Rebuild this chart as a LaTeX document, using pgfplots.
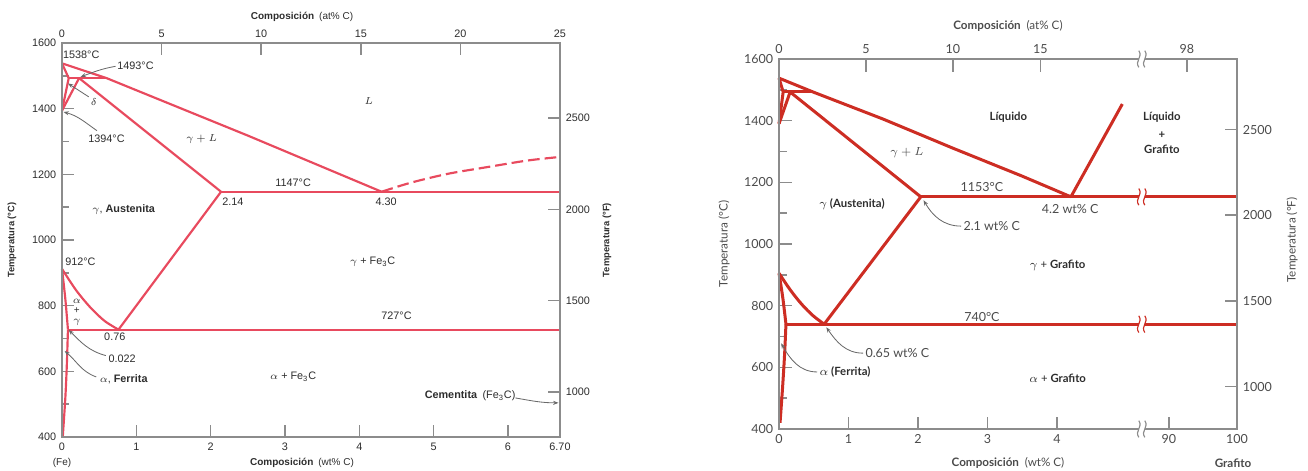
\documentclass[border=0pt]{standalone}
\usepackage{fontspec}
\setmainfont{Liberation Sans}
\newfontfamily\lato{Lato}
\usepackage{pgfplots}
\pgfplotsset{compat=1.18}
\usetikzlibrary{arrows.meta}
\definecolor{lred}{RGB}{232,74,94}
\definecolor{rred}{RGB}{205,45,35}
\definecolor{axg}{RGB}{140,140,140}
\definecolor{ltxt}{RGB}{45,45,45}
\definecolor{rtxt}{RGB}{75,75,75}
\definecolor{arr}{RGB}{105,105,105}
\newcommand\lf{\fontsize{6.5}{7.5}\selectfont}
\newcommand\lfs{\fontsize{6}{6}\selectfont}
\newcommand\rf{\lato\fontsize{7.5}{9}\selectfont}
\newcommand\rfs{\lato\fontsize{6.8}{8}\selectfont}
\tikzset{arrw/.style={draw=arr, line width=0.5pt, -{Stealth[length=3.2pt,width=2.4pt]}}}
\pgfplotsset{
  common/.style={scale only axis, anchor=south west, clip=false,
    axis line style={axg, line width=1pt},
    tick align=inside,
    every tick/.style={axg, line width=0.9pt},
    /pgf/number format/assume math mode=true,
    /pgf/number format/1000 sep={},
  },
  lp/.style={lred, line width=1.3pt, line join=round, mark=none},
  rp/.style={rred, line width=1.8pt, line join=round, mark=none},
}
\begin{document}
\begin{tikzpicture}
\useasboundingbox (0,0) rectangle (784.8pt,282pt);
% ---------------- LEFT PANEL ----------------
\begin{axis}[common, at={(37.2pt,19.8pt)}, width=298.8pt, height=236.4pt,
  xmin=0, xmax=6.7, ymin=400, ymax=1600,
  xtick={0,1,2,3,4,5,6,6.7}, xticklabels={0,1,2,3,4,5,6,6.70},
  ytick={400,600,...,1600}, minor ytick={500,700,...,1500},
  xtick pos=left, ytick pos=left, xticklabel pos=left, yticklabel pos=left,
  major tick length=7pt, minor tick length=4.5pt,
  tick label style={font=\lf, text=ltxt},
]
% liquidus (delta/gamma side)
\addplot[lp] coordinates {(0,1538) (0.6,1493) (2.5,1318) (4.3,1147)};
% liquidus Fe3C side (dashed)
\addplot[lp, dash pattern=on 7pt off 3pt, smooth] coordinates {(4.3,1147) (4.7,1175) (5.2,1202) (5.72,1222) (6.26,1242) (6.7,1253)};
% delta region
\addplot[lp] coordinates {(0,1538) (0.09,1493) (0,1394)};
\addplot[lp] coordinates {(0,1394) (0.23,1493)};
\addplot[lp] coordinates {(0.09,1493) (0.6,1493)};
% gamma solidus
\addplot[lp] coordinates {(0.23,1493) (2.14,1147)};
% eutectic
\addplot[lp] coordinates {(2.14,1147) (6.7,1147)};
% Acm
\addplot[lp] coordinates {(2.14,1147) (0.76,727)};
% A3
\addplot[lp, smooth] coordinates {(0,912) (0.19,847) (0.38,795) (0.57,754) (0.76,727)};
% alpha boundary
\addplot[lp, smooth] coordinates {(0,912) (0.045,820) (0.08,727)};
\addplot[lp, smooth] coordinates {(0.08,727) (0.065,620) (0.045,520) (0.01,400)};
% eutectoid
\addplot[lp] coordinates {(0.08,727) (6.7,727)};
% annotations
\begin{scope}[every node/.style={font=\lf, text=ltxt}]
\node[anchor=west, inner sep=0] at (axis cs:0.01,1563) {1538°C};
\node[anchor=west, inner sep=0] at (axis cs:0.74,1530) {1493°C};
\draw[arrw] (axis cs:0.72,1529) to[out=190,in=20] (axis cs:0.25,1497);
\node at (axis cs:0.43,1420) {$\delta$};
\draw[arrw] (axis cs:0.36,1436) -- (axis cs:0.08,1477);
\node[anchor=west, inner sep=0] at (axis cs:0.35,1308) {1394°C};
\draw[arrw] (axis cs:0.47,1333) to[out=145,in=-15] (axis cs:0.02,1390);
\node at (axis cs:1.88,1308) {$\gamma + L$};
\node at (axis cs:4.13,1423) {$L$};
\node at (axis cs:3.11,1174) {1147°C};
\node at (axis cs:2.30,1116) {2.14};
\node at (axis cs:4.36,1116) {4.30};
\node at (axis cs:0.83,1094) {$\gamma$, \textbf{Austenita}};
\node[anchor=west, inner sep=0] at (axis cs:0.04,933) {912°C};
\node at (axis cs:4.18,933) {$\gamma$ + Fe\textsubscript{3}C};
\node[font=\lfs, align=center, inner sep=0] at (axis cs:0.2,781) {$\alpha$\\+\\$\gamma$};
\node at (axis cs:4.5,769) {727°C};
\node at (axis cs:0.71,705) {0.76};
\node at (axis cs:0.81,638) {0.022};
\draw[arrw] (axis cs:0.59,648) to[out=165,in=-45] (axis cs:0.09,726);
\node at (axis cs:0.83,577) {$\alpha$, \textbf{Ferrita}};
\draw[arrw] (axis cs:0.46,583) to[out=160,in=-40] (axis cs:0.035,662);
\node at (axis cs:3.11,583) {$\alpha$ + Fe\textsubscript{3}C};
\node at (axis cs:5.49,525) {\textbf{Cementita}\enspace(Fe\textsubscript{3}C)};
\draw[arrw] (axis cs:6.1,519) to[out=-10,in=180] (axis cs:6.68,504);
\end{scope}
\end{axis}
\begin{axis}[common, at={(37.2pt,19.8pt)}, width=298.8pt, height=236.4pt,
  xmin=0, xmax=25, ymin=752, ymax=2912,
  xtick={0,5,...,25}, ytick={1000,1500,2000,2500},
  xtick pos=right, ytick pos=right, xticklabel pos=right, yticklabel pos=right,
  major tick length=7pt,
  tick label style={font=\lf, text=ltxt},
]
\addplot[draw=none] coordinates {(0,752)};
\end{axis}
\begin{scope}[every node/.style={font=\lfs, text=ltxt}]
\node at (181.2pt,271.8pt) {\textbf{Composición}\enspace(at\% C)};
\node at (181.2pt,4.2pt) {\textbf{Composición}\enspace(wt\% C)};
\node at (37.2pt,4.2pt) {(Fe)};
\node[rotate=90, font=\fontsize{5.6}{6}\selectfont] at (7.2pt,138pt) {\textbf{Temperatura (°C)}};
\node[rotate=90, font=\fontsize{5.6}{6}\selectfont] at (364.2pt,138pt) {\textbf{Temperatura (°F)}};
\end{scope}
% ---------------- RIGHT PANEL ----------------
\begin{axis}[common, at={(467.4pt,24.6pt)}, width=274.8pt, height=222pt,
  xmin=0, xmax=6.59, ymin=400, ymax=1600,
  xtick={0,1,2,3,4,5.61,6.59}, xticklabels={0,1,2,3,4,90,100},
  ytick={400,600,...,1600}, minor ytick={500,700,...,1500},
  xtick pos=left, ytick pos=left, xticklabel pos=left, yticklabel pos=left,
  major tick length=7.5pt, minor tick length=5pt,
  tick label style={font=\rf, text=rtxt},
]
\addplot[rp] coordinates {(0,1538) (0.49,1493) (1.5,1405) (2.5,1311) (3.5,1220) (4.2,1153)};
\addplot[rp] coordinates {(0,1538) (0.06,1493) (0,1390)};
\addplot[rp] coordinates {(0,1390) (0.16,1493)};
\addplot[rp] coordinates {(0.06,1493) (0.49,1493)};
\addplot[rp] coordinates {(0.16,1493) (2.04,1153)};
\addplot[rp] coordinates {(2.04,1153) (6.59,1153)};
\addplot[rp] coordinates {(4.2,1153) (4.94,1454)};
\addplot[rp] coordinates {(2.04,1153) (0.65,740)};
\addplot[rp, smooth] coordinates {(0,905) (0.1625,851) (0.325,805) (0.4875,768) (0.65,740)};
\addplot[rp, smooth] coordinates {(0,905) (0.055,825) (0.1,740)};
\addplot[rp, smooth] coordinates {(0.1,740) (0.08,640) (0.05,530) (0.015,420)};
\addplot[rp] coordinates {(0.1,740) (6.59,740)};
\coordinate (bT) at (axis cs:5.22,1600);
\coordinate (bB) at (axis cs:5.22,400);
\coordinate (b1) at (axis cs:5.22,1153);
\coordinate (b2) at (axis cs:5.22,740);
\begin{scope}[every node/.style={font=\rf, text=rtxt}]
\node[font=\rfs\bfseries, text=ltxt] at (axis cs:3.30,1412) {Líquido};
\node[font=\rfs\bfseries, text=ltxt] at (axis cs:5.51,1412) {Líquido};
\node[font=\rfs\bfseries, text=ltxt] at (axis cs:5.51,1352) {+};
\node[font=\rfs\bfseries, text=ltxt] at (axis cs:5.51,1308) {Grafito};
\node at (axis cs:1.84,1295) {$\gamma + L$};
\node at (axis cs:2.92,1185) {1153°C};
\node[font=\rfs, text=ltxt] at (axis cs:1.05,1130) {$\gamma$ \textbf{(Austenita)}};
\node[anchor=west, inner sep=0] at (axis cs:2.65,1058) {2.1 wt\% C};
\draw[arrw] (axis cs:2.62,1058) to[out=180,in=-60] (axis cs:2.08,1142);
\node at (axis cs:4.19,1113) {4.2 wt\% C};
\node[font=\rfs, text=ltxt] at (axis cs:4.01,932) {$\gamma$ + \textbf{Grafito}};
\node at (axis cs:2.92,763) {740°C};
\node[anchor=west, inner sep=0] at (axis cs:1.24,646) {0.65 wt\% C};
\draw[arrw] (axis cs:1.21,646) to[out=180,in=-55] (axis cs:0.68,730);
\node[font=\rfs, text=ltxt, anchor=west, inner sep=0] at (axis cs:0.58,585) {$\alpha$ \textbf{(Ferrita)}};
\draw[arrw] (axis cs:0.55,585) to[out=180,in=-60] (axis cs:0.03,678);
\node[font=\rfs, text=ltxt] at (axis cs:4.01,565) {$\alpha$ + \textbf{Grafito}};
\end{scope}
\end{axis}
\begin{axis}[common, at={(467.4pt,24.6pt)}, width=274.8pt, height=222pt,
  xmin=0, xmax=6.59, ymin=752, ymax=2912,
  xtick={0,1.25,2.5,3.76,5.87}, xticklabels={0,5,10,15,98},
  ytick={1000,1500,2000,2500},
  xtick pos=right, ytick pos=right, xticklabel pos=right, yticklabel pos=right,
  major tick length=7.5pt,
  tick label style={font=\rf, text=rtxt},
]
\addplot[draw=none] coordinates {(0,752)};
\end{axis}
\foreach \c/\col in {bT/axg,bB/axg,b1/rred,b2/rred}{
  \begin{scope}[shift={(\c)}]
    \fill[white] (-1.8pt,-5pt) rectangle (1.8pt,5pt);
    \draw[\col, line width=0.7pt] (-1.8pt,-5pt) .. controls (-4.5pt,-1pt) and (0.9pt,1pt) .. (-1.8pt,5pt);
    \draw[\col, line width=0.7pt] (1.8pt,-5pt) .. controls (-0.9pt,-1pt) and (4.5pt,1pt) .. (1.8pt,5pt);
  \end{scope}}
\begin{scope}[every node/.style={font=\lato\fontsize{7}{8}\selectfont, text=rtxt}]
\node at (604.8pt,266.4pt) {\textbf{Composición}\enspace(at\% C)};
\node at (604.8pt,4.2pt) {\textbf{Composición}\enspace(wt\% C)};
\node at (739.8pt,4.2pt) {\textbf{Grafito}};
\node[rotate=90] at (434.4pt,135.6pt) {Temperatura (°C)};
\node[rotate=90] at (775.2pt,138pt) {Temperatura (°F)};
\end{scope}
\end{tikzpicture}
\end{document}
